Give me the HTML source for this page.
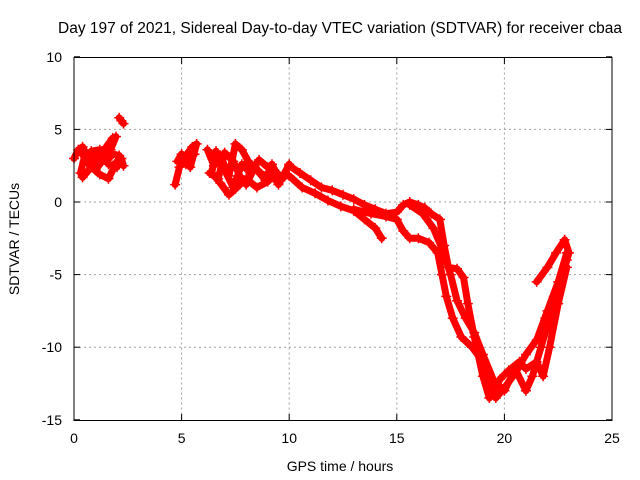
<!DOCTYPE html>
<html><head><meta charset="utf-8"><style>
body{margin:0;background:#fff;}
svg{display:block;font-family:"Liberation Sans",sans-serif;}
</style></head><body>
<svg id="chart" width="640" height="480">
<rect width="640" height="480" fill="#fff"/>
<text x="340" y="33" font-size="15.5" text-anchor="middle">Day 197 of 2021, Sidereal Day-to-day VTEC variation (SDTVAR) for receiver cbaa</text>
<g id="grid"></g>
<g id="data"></g>
<rect x="74" y="57.5" width="538" height="363" fill="none" stroke="#000" stroke-width="1"/>
<g id="ticks"></g>
<text x="340" y="471" font-size="14" text-anchor="middle">GPS time / hours</text>
<text x="19" y="239" font-size="14" text-anchor="middle" transform="rotate(-90 19 239)">SDTVAR / TECUs</text>
</svg>
<script>
const xTicks=[0,5,10,15,20,25];
const yTicks=[10,5,0,-5,-10,-15];
const s1x=[0,0.2,0.4,0.6,0.9,1.2,1.5,1.8,1.95,1.7,1.3,1.0,0.7,0.5,0.3,0.4,0.8,1.2,1.6,2.0,2.2,2.3];
const s1y=[3.0,3.6,3.8,3.2,2.6,3.0,3.8,4.4,4.5,3.6,2.8,2.2,2.6,3.2,2.0,1.7,2.4,1.9,1.6,2.8,3.0,2.5];
const s1bx=[0.3,0.7,1.1,1.5,1.8,2.1,2.0,1.6,1.2,0.8,0.5];
const s1by=[3.4,3.0,3.4,2.8,3.3,3.2,2.4,2.6,3.6,3.5,2.8];
const s2x=[2.1,2.2,2.3];
const s2y=[5.8,5.6,5.4];
const s3x=[4.7,4.9,5.1,5.3,5.5,5.7,5.4,5.0,4.8,5.2,5.6];
const s3y=[1.2,2.4,3.0,3.4,3.8,4.0,2.4,3.3,2.8,2.6,3.3];
const s4x=[6.2,6.5,6.8,7.2,7.5,7.8,8.1,8.5,8.9,9.2,9.4,9.0,8.5,8.0,7.5,7.2,6.8,6.4,6.6,7.0,7.4,7.8,8.2,8.6,9.0,9.5,10.0];
const s4y=[3.6,2.5,3.2,1.8,4.0,3.6,2.8,2.2,1.5,2.6,2.0,1.4,1.0,1.6,0.9,0.5,1.3,2.0,3.5,2.2,1.0,2.6,2.0,2.9,2.4,1.2,2.6];
const s4bx=[6.3,6.7,7.0,7.4,7.7,8.0,8.4,8.8,9.3,9.7];
const s4by=[2.0,1.6,3.4,2.8,1.8,1.2,2.4,1.8,2.2,1.6];
const s5x=[10.0,10.5,11,11.5,12,12.5,13,13.5,14,14.5,15,15.3,15.6,16,16.3,16.6,17.0];
const s5y=[2.5,2.0,1.5,1.0,0.8,0.5,0.2,-0.2,-0.5,-0.8,-0.7,-0.2,0.0,-0.2,-0.4,-0.8,-1.2];
const s6x=[10,10.6,11.2,11.8,12.4,13,13.5,14,14.3];
const s6y=[1.8,1.0,0.6,0.1,-0.3,-0.6,-1.2,-1.8,-2.5];
const s7x=[13,13.8,14.5,15,15.3,15.6,16,16.5,16.9,17.1,17.3,17.6,18,18.5,19,19.3,19.6,20,20.5,21,21.5,22,22.5,22.9];
const s7y=[-0.5,-0.8,-1.0,-1.2,-2.0,-2.5,-2.5,-2.8,-3.5,-5,-6.5,-8,-9.3,-10,-11,-12.5,-13.5,-12.8,-11.8,-10.5,-9.5,-7.5,-5.5,-3.5];
const s8x=[15.6,16.2,16.7,17.1,17.5,17.8,18.2,18.6,19,19.5,20,20.5,21,21.3,21.7,22.1,22.5,22.9];
const s8y=[-0.2,-0.8,-1.8,-3.2,-5,-6.8,-8,-9,-10.5,-12.3,-13,-11.5,-13,-12,-10,-8,-6,-4];
const s9x=[17,17.2,17.4,17.8,18.1,18.3,18.6,19,19.3,19.8,20.2,20.7,21,21.5,21.8,22.1,22.5,22.9];
const s9y=[-1.2,-3,-4.5,-4.6,-5.2,-7,-9.3,-12,-13.5,-12.2,-11.6,-11,-11.5,-11,-12,-10,-7,-4.5];
const s10x=[21.5,22,22.4,22.8,23.0,22.7,22.3,21.9];
const s10y=[-5.5,-4.5,-3.5,-2.6,-3.5,-5,-6.5,-8];
const series=[[s1x,s1y],[s1bx,s1by],[s2x,s2y],[s3x,s3y],[s4x,s4y],[s4bx,s4by],[s5x,s5y],[s6x,s6y],[s7x,s7y],[s8x,s8y],[s9x,s9y],[s10x,s10y]];
const X=v=>74+v*21.52, Y=v=>202-v*14.52;
const NS="http://www.w3.org/2000/svg";
const grid=document.getElementById('grid'),ticks=document.getElementById('ticks'),data=document.getElementById('data');
function mk(tag,attrs,parent){const e=document.createElementNS(NS,tag);for(const k in attrs)e.setAttribute(k,attrs[k]);parent.appendChild(e);return e;}
xTicks.forEach(t=>{
  if(t>0&&t<25){const g=mk('line',{x1:X(t),x2:X(t),y1:57.5,y2:420.5,stroke:'#a0a0a0','stroke-dasharray':'2,3'},grid);
  
  }
  mk('line',{x1:X(t),x2:X(t),y1:420.5,y2:414,stroke:'#000'},ticks);
  mk('line',{x1:X(t),x2:X(t),y1:57.5,y2:64,stroke:'#000'},ticks);
  const l=mk('text',{x:X(t),y:443,'font-size':14,'text-anchor':'middle'},ticks);l.textContent=t;
  
  
});
yTicks.forEach(t=>{
  if(t<10&&t>-15){const g=mk('line',{x1:74,x2:612,y1:Y(t),y2:Y(t),stroke:'#a0a0a0','stroke-dasharray':'2,3'},grid);
  
  }
  mk('line',{x1:74,x2:80,y1:Y(t),y2:Y(t),stroke:'#000'},ticks);
  mk('line',{x1:612,x2:606,y1:Y(t),y2:Y(t),stroke:'#000'},ticks);
  const l=mk('text',{x:62,y:Y(t)+5,'font-size':14,'text-anchor':'end'},ticks);l.textContent=t;
  
  
});
series.forEach(([xs,ys])=>{
  const pts=xs.map((x,i)=>X(x)+','+Y(ys[i])).join(' ');
  const pl=mk('polyline',{points:pts,fill:'none',stroke:'#f00','stroke-width':7,'stroke-linejoin':'round','stroke-linecap':'round'},data);
  
  
  xs.forEach((x,i)=>{
    const p=mk('path',{d:`M${X(x)-5},${Y(ys[i])}h10M${X(x)},${Y(ys[i])-5}v10`,stroke:'#f00','stroke-width':1.5},data);
    
    
  });
});
</script>
</body></html>
